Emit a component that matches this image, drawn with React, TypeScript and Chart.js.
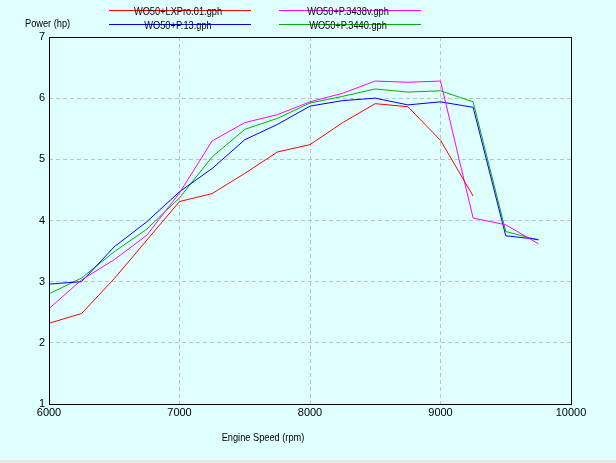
import React, { useEffect, useRef } from 'react';
import { Chart, registerables } from 'chart.js';
Chart.register(...registerables);

const rpm = [6000, 6250, 6500, 6750, 7000, 7250, 7500, 7750, 8000, 8250, 8500, 8750, 9000, 9250, 9500, 9750];
const lxpro01 = [2.32, 2.48, 3.05, 3.68, 4.31, 4.44, 4.77, 5.12, 5.24, 5.6, 5.91, 5.86, 5.31, 4.4];
const p3438v = [2.56, 3.03, 3.36, 3.76, 4.45, 5.3, 5.6, 5.73, 5.94, 6.08, 6.28, 6.26, 6.28, 4.04, 3.93, 3.62];
const p13 = [2.96, 3.0, 3.57, 3.98, 4.47, 4.85, 5.32, 5.57, 5.87, 5.96, 6.0, 5.89, 5.94, 5.85, 3.75, 3.69];
const p3440 = [2.8, 3.06, 3.49, 3.86, 4.37, 5.04, 5.49, 5.67, 5.92, 6.03, 6.15, 6.1, 6.12, 5.94, 3.82, 3.68];

const seriesNames = ['WO50+LXPro.01.gph', 'WO50+P.3438v.gph', 'WO50+P.13.gph', 'WO50+P.3440.gph'];
const seriesColors = ['#ff0000', '#ff00ff', '#0000ff', '#00b400'];
const seriesValues = [lxpro01, p3438v, p13, p3440];

const yTitle = 'Power (hp)';
const xTitle = 'Engine Speed (rpm)';

const FONT = '"Liberation Sans", Arial, sans-serif';
const SQUEEZE = 0.84;

function squeezedText(ctx: CanvasRenderingContext2D, text: string, x: number, y: number) {
  ctx.save();
  ctx.translate(x, y);
  ctx.scale(SQUEEZE, 1);
  ctx.fillText(text, 0, 0);
  ctx.restore();
}

const overlayPlugin = {
  id: 'overlay',
  beforeDraw(chart: any) {
    const ctx = chart.ctx;
    ctx.save();
    ctx.fillStyle = '#dfffff';
    ctx.fillRect(0, 0, chart.width, chart.height);
    ctx.fillStyle = '#e8e8e8';
    ctx.fillRect(0, chart.height - 3, chart.width, 3);
    ctx.restore();
  },
  afterDraw(chart: any) {
    const ctx = chart.ctx;
    const a = chart.chartArea;
    ctx.save();
    ctx.strokeStyle = '#000000';
    ctx.lineWidth = 1;
    ctx.strokeRect(Math.round(a.left) + 0.5, Math.round(a.top) + 0.5, Math.round(a.right - a.left), Math.round(a.bottom - a.top));
    ctx.font = '11px ' + FONT;
    ctx.textAlign = 'center';
    ctx.textBaseline = 'middle';
    const cols = [[109, 251, 178], [279, 421, 348]];
    const rows = [10.5, 24.5];
    const layout = [[0, 0], [0, 1], [1, 0], [1, 1]];
    seriesNames.forEach((name, i) => {
      const [r, c] = layout[i];
      const y = rows[r];
      ctx.strokeStyle = seriesColors[i];
      ctx.beginPath();
      ctx.moveTo(cols[c][0], y);
      ctx.lineTo(cols[c][1], y);
      ctx.stroke();
      ctx.fillStyle = '#000000';
      squeezedText(ctx, name, cols[c][2], y + 1);
    });
    ctx.textAlign = 'left';
    squeezedText(ctx, yTitle, 25, 24);
    ctx.textAlign = 'center';
    squeezedText(ctx, xTitle, 263, 438);
    ctx.restore();
  },
};

export default function App() {
  const ref = useRef<HTMLCanvasElement>(null);
  useEffect(() => {
    if (!ref.current) return;
    const chart = new Chart(ref.current, {
      type: 'line',
      data: {
        datasets: seriesValues.map((vals, i) => ({
          label: seriesNames[i],
          data: vals.map((v, j) => ({ x: rpm[j], y: v })),
          borderColor: seriesColors[i],
          backgroundColor: seriesColors[i],
          borderWidth: 1,
          pointRadius: 0,
          tension: 0,
          fill: false,
        })),
      },
      options: {
        responsive: false,
        animation: false,
        devicePixelRatio: 1,
        layout: { padding: { left: 0, top: 37, right: 45, bottom: 0 } },
        plugins: { legend: { display: false }, tooltip: { enabled: false }, title: { display: false } },
        scales: {
          x: {
            type: 'linear',
            min: 6000,
            max: 10000,
            afterFit: (s: any) => { s.height = 59; },
            ticks: {
              stepSize: 1000, color: '#000', font: { family: FONT, size: 11 }, padding: 2, maxRotation: 0, autoSkip: false,
              callback: (v: any) => String(v),
            },
            grid: { color: '#c0c0c0', drawTicks: false, lineWidth: 1 },
            border: { display: false, dash: [4, 3] },
          },
          y: {
            type: 'linear',
            min: 1,
            max: 7,
            afterFit: (s: any) => { s.width = 49; },
            ticks: { stepSize: 1, color: '#000', font: { family: FONT, size: 11 }, padding: 4, callback: (v: any) => String(v) },
            grid: { color: '#c0c0c0', drawTicks: false, lineWidth: 1 },
            border: { display: false, dash: [4, 3] },
          },
        },
      },
      plugins: [overlayPlugin],
    });
    return () => chart.destroy();
  }, []);
  return (
    <div style={{ position: 'absolute', left: 0, top: 0, width: 616, height: 463 }}>
      <canvas ref={ref} width={616} height={463} />
    </div>
  );
}
